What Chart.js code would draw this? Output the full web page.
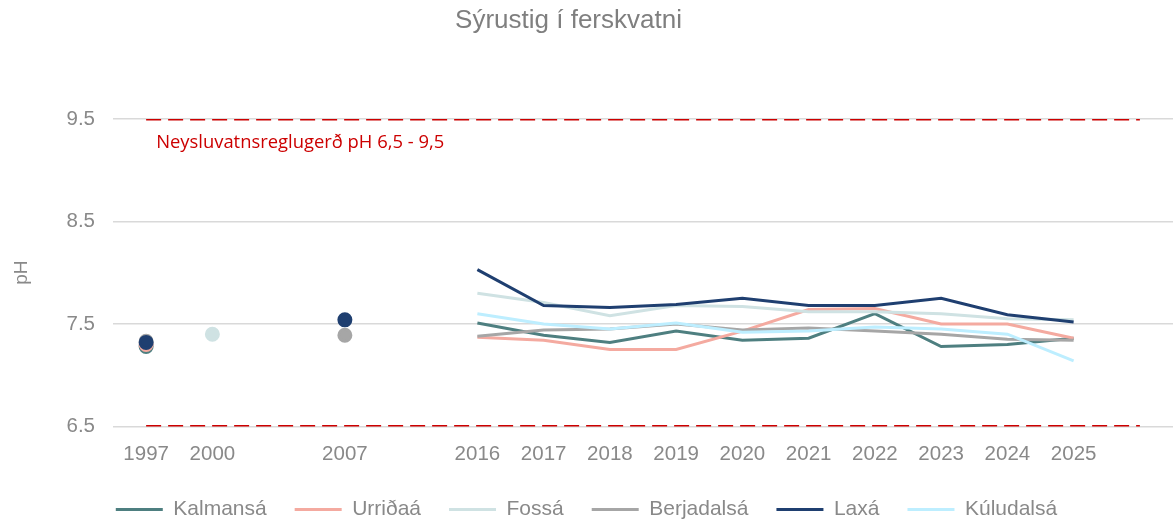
<!DOCTYPE html>
<html>
<head>
<meta charset="utf-8">
<script src="https://cdn.jsdelivr.net/npm/chart.js@4.4.1/dist/chart.umd.min.js"></script>
<style>
  html, body { margin: 0; padding: 0; background: #fff; }
  #wrap { width: 1173px; height: 519px; position: relative; }
</style>
</head>
<body>
<div id="wrap"><canvas id="phChart"></canvas></div>
<script>
// years on the x axis; blanks keep the gaps that the original axis has
const years = ['1997', '2000', '', '2007', '', '2016', '2017', '2018', '2019', '2020', '2021', '2022', '2023', '2024', '2025', ''];
const yTicks = [6.5, 7.5, 8.5, 9.5];

const kalmansa   = [7.28, null, null, null, null, 7.51, 7.39, 7.32, 7.43, 7.34, 7.36, 7.60, 7.28, 7.30, 7.36, null];
const urridaa    = [7.30, null, null, null, null, 7.37, 7.34, 7.25, 7.25, 7.43, 7.64, 7.65, 7.50, 7.50, 7.36, null];
const fossa      = [null, 7.40, null, null, null, 7.80, 7.71, 7.58, 7.68, 7.67, 7.62, 7.62, 7.60, 7.55, 7.54, null];
const berjadalsa = [7.33, null, null, 7.39, null, 7.38, 7.44, 7.45, 7.50, 7.44, 7.46, 7.43, 7.40, 7.35, 7.34, null];
const laxa       = [7.32, null, null, 7.54, null, 8.03, 7.68, 7.66, 7.69, 7.75, 7.68, 7.68, 7.75, 7.59, 7.52, null];
const kuludalsa  = [null, null, null, null, null, 7.60, 7.50, 7.45, 7.51, 7.42, 7.43, 7.47, 7.45, 7.40, 7.14, null];

const upperLimit = years.map(() => 9.5);
const lowerLimit = years.map(() => 6.5);

const GREY = '#898989';
const LIMIT_RED = '#cc0000';
const FONT = '"Liberation Sans", Arial, sans-serif';

function series(label, data, color, order) {
    return {
        label, data, order,
        borderColor: color, backgroundColor: color,
        pointBackgroundColor: color, pointBorderColor: color, pointBorderWidth: 3,
        pointRadius: ctx => ctx.dataIndex < 5 ? 6 : 0,
        pointHoverRadius: ctx => ctx.dataIndex < 5 ? 6 : 0,
        borderWidth: 3, tension: 0, spanGaps: false, fill: false
    };
}

function limitLine(data) {
    return {
        label: 'limit', data, order: 0,
        borderColor: LIMIT_RED, borderDash: [15, 7], borderWidth: 3,
        pointRadius: 0, fill: false, tension: 0
    };
}

const extraText = {
    id: 'extraText',
    afterLayout(chart) {
        // legend sits a little higher than the default box puts it
        chart.legend.top -= 4;
        chart.legend.bottom -= 4;
    },
    afterDraw(chart) {
        const { ctx, scales: { x, y } } = chart;
        ctx.save();
        ctx.fillStyle = '#7f7f7f';
        ctx.font = '26px ' + FONT;
        ctx.textAlign = 'center';
        ctx.textBaseline = 'middle';
        ctx.fillText('Sýrustig í ferskvatni', chart.width / 2 - 18, 21);

        ctx.fillStyle = LIMIT_RED;
        ctx.font = '18.4px "Open Sans", "Noto Sans", sans-serif';
        ctx.textAlign = 'left';
        ctx.fillText('Neysluvatnsreglugerð pH 6,5 - 9,5', x.getPixelForValue(0) + 10, y.getPixelForValue(9.265));
        ctx.restore();
    }
};

new Chart(document.getElementById('phChart'), {
    type: 'line',
    data: {
        labels: years,
        datasets: [
            series('Kalmansá', kalmansa, '#4e7f80', 6),
            series('Urriðaá', urridaa, '#f4aaa0', 5),
            series('Fossá', fossa, '#cfe2e3', 4),
            series('Berjadalsá', berjadalsa, '#a6a6a6', 3),
            series('Laxá', laxa, '#1f3f70', 2),
            series('Kúludalsá', kuludalsa, '#bdeeff', 1),
            limitLine(upperLimit),
            limitLine(lowerLimit)
        ]
    },
    options: {
        responsive: true, maintainAspectRatio: false, animation: false,
        layout: { autoPadding: false, padding: { top: 119, right: 0, bottom: -15, left: 0 } },
        plugins: {
            title: { display: false },
            tooltip: { enabled: false },
            legend: {
                position: 'bottom',
                labels: {
                    filter: item => item.text !== 'limit',
                    sort: (a, b) => a.datasetIndex - b.datasetIndex,
                    usePointStyle: true, pointStyle: 'line', pointStyleWidth: 47,
                    color: GREY, padding: 28,
                    font: { family: FONT, size: 21 }
                }
            }
        },
        scales: {
            x: {
                offset: true,
                grid: { display: false },
                border: { display: false },
                ticks: {
                    autoSkip: false, maxRotation: 0, padding: 8, color: GREY,
                    font: { family: FONT, size: 20.5 }
                }
            },
            y: {
                min: 6.5, max: 9.5,
                afterBuildTicks: s => { s.ticks = yTicks.map(v => ({ value: v })); },
                afterFit: s => { s.width = 113; },
                grid: { color: '#d9d9d9', lineWidth: 1.5, drawTicks: false },
                border: { display: false },
                ticks: {
                    padding: 18, color: GREY,
                    callback: v => v.toFixed(1),
                    font: { family: FONT, size: 20.5 }
                },
                title: {
                    display: true, text: 'pH', color: GREY, padding: { top: 10, bottom: 0 },
                    font: { family: FONT, size: 19 }
                }
            }
        }
    },
    plugins: [extraText]
});
</script>
</body>
</html>
